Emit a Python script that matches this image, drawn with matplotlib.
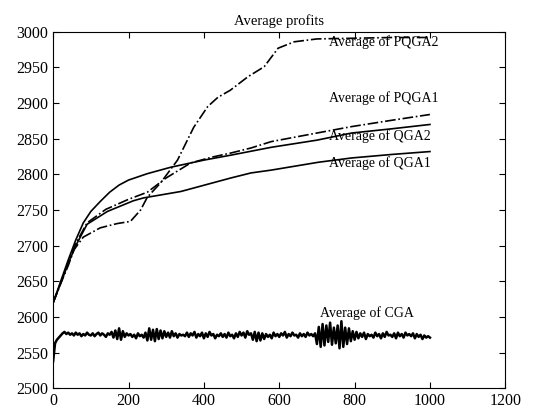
import matplotlib
matplotlib.use("Agg")
import matplotlib.pyplot as plt

# values
pqga2_x = [0, 20, 40, 55, 80, 125, 170, 205, 232, 250, 285, 330, 373, 410, 437,
           470, 517, 560, 597, 640, 700, 800, 900, 1000]
pqga2_y = [2620, 2647, 2672, 2694, 2712, 2725, 2731, 2734, 2750, 2768, 2788, 2820,
           2866, 2895, 2908, 2918, 2937, 2951, 2977, 2986, 2990, 2991, 2992, 2992]

pqga1_x = [0, 20, 40, 60, 90, 140, 200, 250, 300, 365, 420, 472, 525, 579, 700,
           792, 900, 1000]
pqga1_y = [2620, 2648, 2676, 2703, 2732, 2751, 2765, 2775, 2795, 2816, 2824, 2830,
           2837, 2846, 2858, 2867, 2876, 2884]

qga2_x = [0, 20, 40, 60, 80, 100, 125, 150, 175, 200, 250, 312, 400, 472, 579,
          700, 792, 900, 1000]
qga2_y = [2620, 2650, 2680, 2708, 2732, 2748, 2762, 2775, 2785, 2792, 2801, 2810,
          2820, 2827, 2838, 2848, 2858, 2864, 2870]

qga1_x = [0, 20, 40, 60, 90, 144, 213, 240, 339, 472, 525, 579, 704, 792, 900, 1000]
qga1_y = [2620, 2647, 2675, 2700, 2730, 2748, 2763, 2767, 2776, 2795, 2802, 2806,
          2817, 2823, 2828, 2832]

cga_x = list(range(0, 1001, 5))
cga_y = [
    2538, 2563, 2568, 2571, 2574, 2577, 2579, 2576, 2578, 2575,
    2577, 2574, 2578, 2575, 2577, 2573, 2576, 2574, 2578, 2575,
    2574, 2577, 2573, 2576, 2578, 2574, 2577, 2575, 2572, 2577,
    2575, 2579, 2571, 2581, 2569, 2584, 2568, 2580, 2572, 2577,
    2574, 2576, 2572, 2575, 2570, 2577, 2573, 2575, 2571, 2578,
    2567, 2584, 2568, 2582, 2566, 2583, 2569, 2581, 2570, 2580,
    2572, 2578, 2571, 2580, 2573, 2577, 2571, 2576, 2574, 2575,
    2573, 2578, 2572, 2577, 2574, 2579, 2571, 2576, 2573, 2578,
    2570, 2577, 2572, 2579, 2574, 2576, 2570, 2575, 2573, 2577,
    2572, 2576, 2571, 2578, 2573, 2575, 2570, 2577, 2572, 2579,
    2574, 2578, 2571, 2580, 2575, 2577, 2568, 2579, 2566, 2578,
    2567, 2577, 2569, 2576, 2572, 2575, 2570, 2578, 2573, 2576,
    2572, 2577, 2574, 2579, 2571, 2576, 2573, 2578, 2574, 2575,
    2571, 2577, 2573, 2576, 2572, 2578, 2574, 2576, 2573, 2577,
    2562, 2586, 2558, 2590, 2560, 2588, 2565, 2592, 2561, 2585,
    2563, 2588, 2556, 2594, 2558, 2585, 2562, 2584, 2566, 2580,
    2568, 2579, 2570, 2577, 2572, 2578, 2569, 2576, 2573, 2575,
    2571, 2578, 2573, 2576, 2570, 2577, 2572, 2579, 2574, 2575,
    2572, 2577, 2570, 2578, 2573, 2576, 2571, 2578, 2574, 2576,
    2573, 2577, 2570, 2576, 2572, 2575, 2569, 2574, 2571, 2573,
    2571,
]

labels = ["Average of PQGA2", "Average of PQGA1", "Average of QGA2",
          "Average of QGA1", "Average of CGA"]
label_x = [733, 733, 733, 733, 707]
label_y = [2985, 2907, 2853, 2816, 2605]

plt.rcParams["font.family"] = ["Liberation Serif", "DejaVu Serif"]

fig = plt.figure(figsize=(5.37, 4.13), dpi=100)
ax = fig.add_axes([0.099, 0.06, 0.842, 0.863])

ax.plot(pqga2_x, pqga2_y, color="black", lw=1.2, ls="-.")
ax.plot(pqga1_x, pqga1_y, color="black", lw=1.2, ls="-.")
ax.plot(qga2_x, qga2_y, color="black", lw=1.2)
ax.plot(qga1_x, qga1_y, color="black", lw=1.2)
ax.plot(cga_x, cga_y, color="black", lw=1.8)

for t, x, y in zip(labels, label_x, label_y):
    ax.text(x, y, t, fontsize=10, va="center", ha="left")

ax.set_xlim(0, 1200)
ax.set_ylim(2500, 3000)
ax.set_xticks(range(0, 1201, 200))
ax.set_yticks(range(2500, 3001, 50))
ax.tick_params(direction="in", top=True, right=True, length=4, labelsize=11.5)
for s in ax.spines.values():
    s.set_linewidth(0.8)
ax.set_title("Average profits", fontsize=10.5, pad=5)

fig.savefig("out.png", dpi=100)
